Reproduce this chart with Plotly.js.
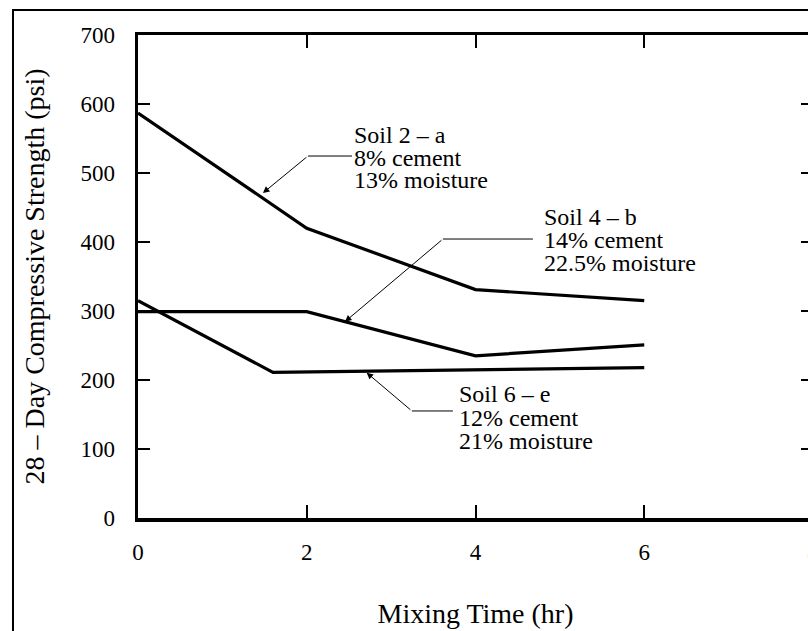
<!DOCTYPE html>
<html>
<head>
<meta charset="utf-8">
<script src="https://cdn.plot.ly/plotly-3.0.1.min.js"></script>
<style>
html, body { margin: 0; padding: 0; overflow: hidden; background: #fff; }
#chart { width: 843px; height: 680px; }
</style>
</head>
<body>
<div id="chart"></div>
<script>
// ---- data ----
const time2a = [0, 2, 4, 6];
const strength2a = [587, 420, 331, 315];
const time4b = [0, 2, 4, 6];
const strength4b = [299, 299, 235, 251];
const time6e = [0, 1.6, 6];
const strength6e = [315, 211, 218];

const xTickVals = [0, 2, 4, 6, 8];
const yTickVals = [0, 100, 200, 300, 400, 500, 600, 700];

const labels2a = ["Soil 2 \u2013 a", "8% cement", "13% moisture"];
const labels4b = ["Soil 4 \u2013 b", "14% cement", "22.5% moisture"];
const labels6e = ["Soil 6 \u2013 e", "12% cement", "21% moisture"];

// ---- styling / placement ----
const FONT = 'Liberation Serif';
const lineStyle = { color: '#000', width: 3.2 };

const traces = [
  { x: time2a, y: strength2a, name: 'Soil 2 - a', mode: 'lines', line: lineStyle, hoverinfo: 'x+y' },
  { x: time4b, y: strength4b, name: 'Soil 4 - b', mode: 'lines', line: lineStyle, hoverinfo: 'x+y' },
  { x: time6e, y: strength6e, name: 'Soil 6 - e', mode: 'lines', line: lineStyle, hoverinfo: 'x+y' }
];

// callout placement (data coords)
const callouts = [
  { lines: labels2a, textX: 2.548, textY: [556, 523, 490], tip: [1.481, 471], bend: [2.014, 524.6], end: 2.536 },
  { lines: labels4b, textX: 4.80, textY: [437, 403.5, 370], tip: [2.453, 284.5], bend: [3.614, 404.3], end: 4.68 },
  { lines: labels6e, textX: 3.793, textY: [180, 146, 112], tip: [2.71, 210.6], bend: [3.246, 155.1], end: 3.732 }
];

const annotations = [];
const shapes = [
  // outer figure frame (cropped in reference)
  { type: 'rect', xref: 'paper', yref: 'paper', x0: -0.1852, x1: 1.2, y0: -0.6, y1: 1.0518,
    line: { color: '#000', width: 2 }, fillcolor: 'rgba(0,0,0,0)', layer: 'below' }
];
callouts.forEach(c => {
  c.lines.forEach((t, i) => {
    annotations.push({ x: c.textX, y: c.textY[i], xref: 'x', yref: 'y', text: t, showarrow: false,
      xanchor: 'left', yanchor: 'middle', height: 23, valign: 'middle', borderpad: 0,
      font: { family: FONT, size: 24, color: '#000' } });
  });
  annotations.push({ x: c.tip[0], y: c.tip[1], ax: c.bend[0], ay: c.bend[1], axref: 'x', ayref: 'y',
    xref: 'x', yref: 'y', text: '', showarrow: true, arrowhead: 2, arrowsize: 1.3, arrowwidth: 1, arrowcolor: '#000' });
  shapes.push({ type: 'line', xref: 'x', yref: 'y', x0: c.bend[0], x1: c.end, y0: c.bend[1], y1: c.bend[1],
    line: { color: '#000', width: 1 } });
});

const layout = {
  width: 843, height: 680,
  margin: { l: 138, r: 30, t: 35, b: 162 },
  paper_bgcolor: '#fff', plot_bgcolor: '#fff',
  showlegend: false,
  font: { family: FONT, color: '#000', size: 23 },
  xaxis: {
    range: [0, 8], tickvals: xTickVals, ticktext: xTickVals.map(String),
    showgrid: false, zeroline: false, showline: true, linecolor: '#000', linewidth: 3.5,
    mirror: 'ticks', ticks: 'inside', ticklen: 13, tickwidth: 2, tickcolor: '#000',
    ticklabelstandoff: 11, tickfont: { family: FONT, size: 23, color: '#000' },
    title: { text: 'Mixing Time (hr)', font: { family: FONT, size: 28, color: '#000' }, standoff: 40 },
    automargin: false
  },
  yaxis: {
    range: [0, 700], tickvals: yTickVals, ticktext: yTickVals.map(String),
    showgrid: false, zeroline: false, showline: true, linecolor: '#000', linewidth: 3.5,
    mirror: 'ticks', ticks: 'inside', ticklen: 12, tickwidth: 2, tickcolor: '#000',
    ticklabelstandoff: 15, tickfont: { family: FONT, size: 23, color: '#000' },
    title: { text: '28 \u2013 Day Compressive Strength (psi)', font: { family: FONT, size: 28, color: '#000' }, standoff: 28 },
    automargin: false
  },
  annotations: annotations,
  shapes: shapes
};

Plotly.newPlot('chart', traces, layout, { displayModeBar: false, staticPlot: true });
</script>
</body>
</html>
